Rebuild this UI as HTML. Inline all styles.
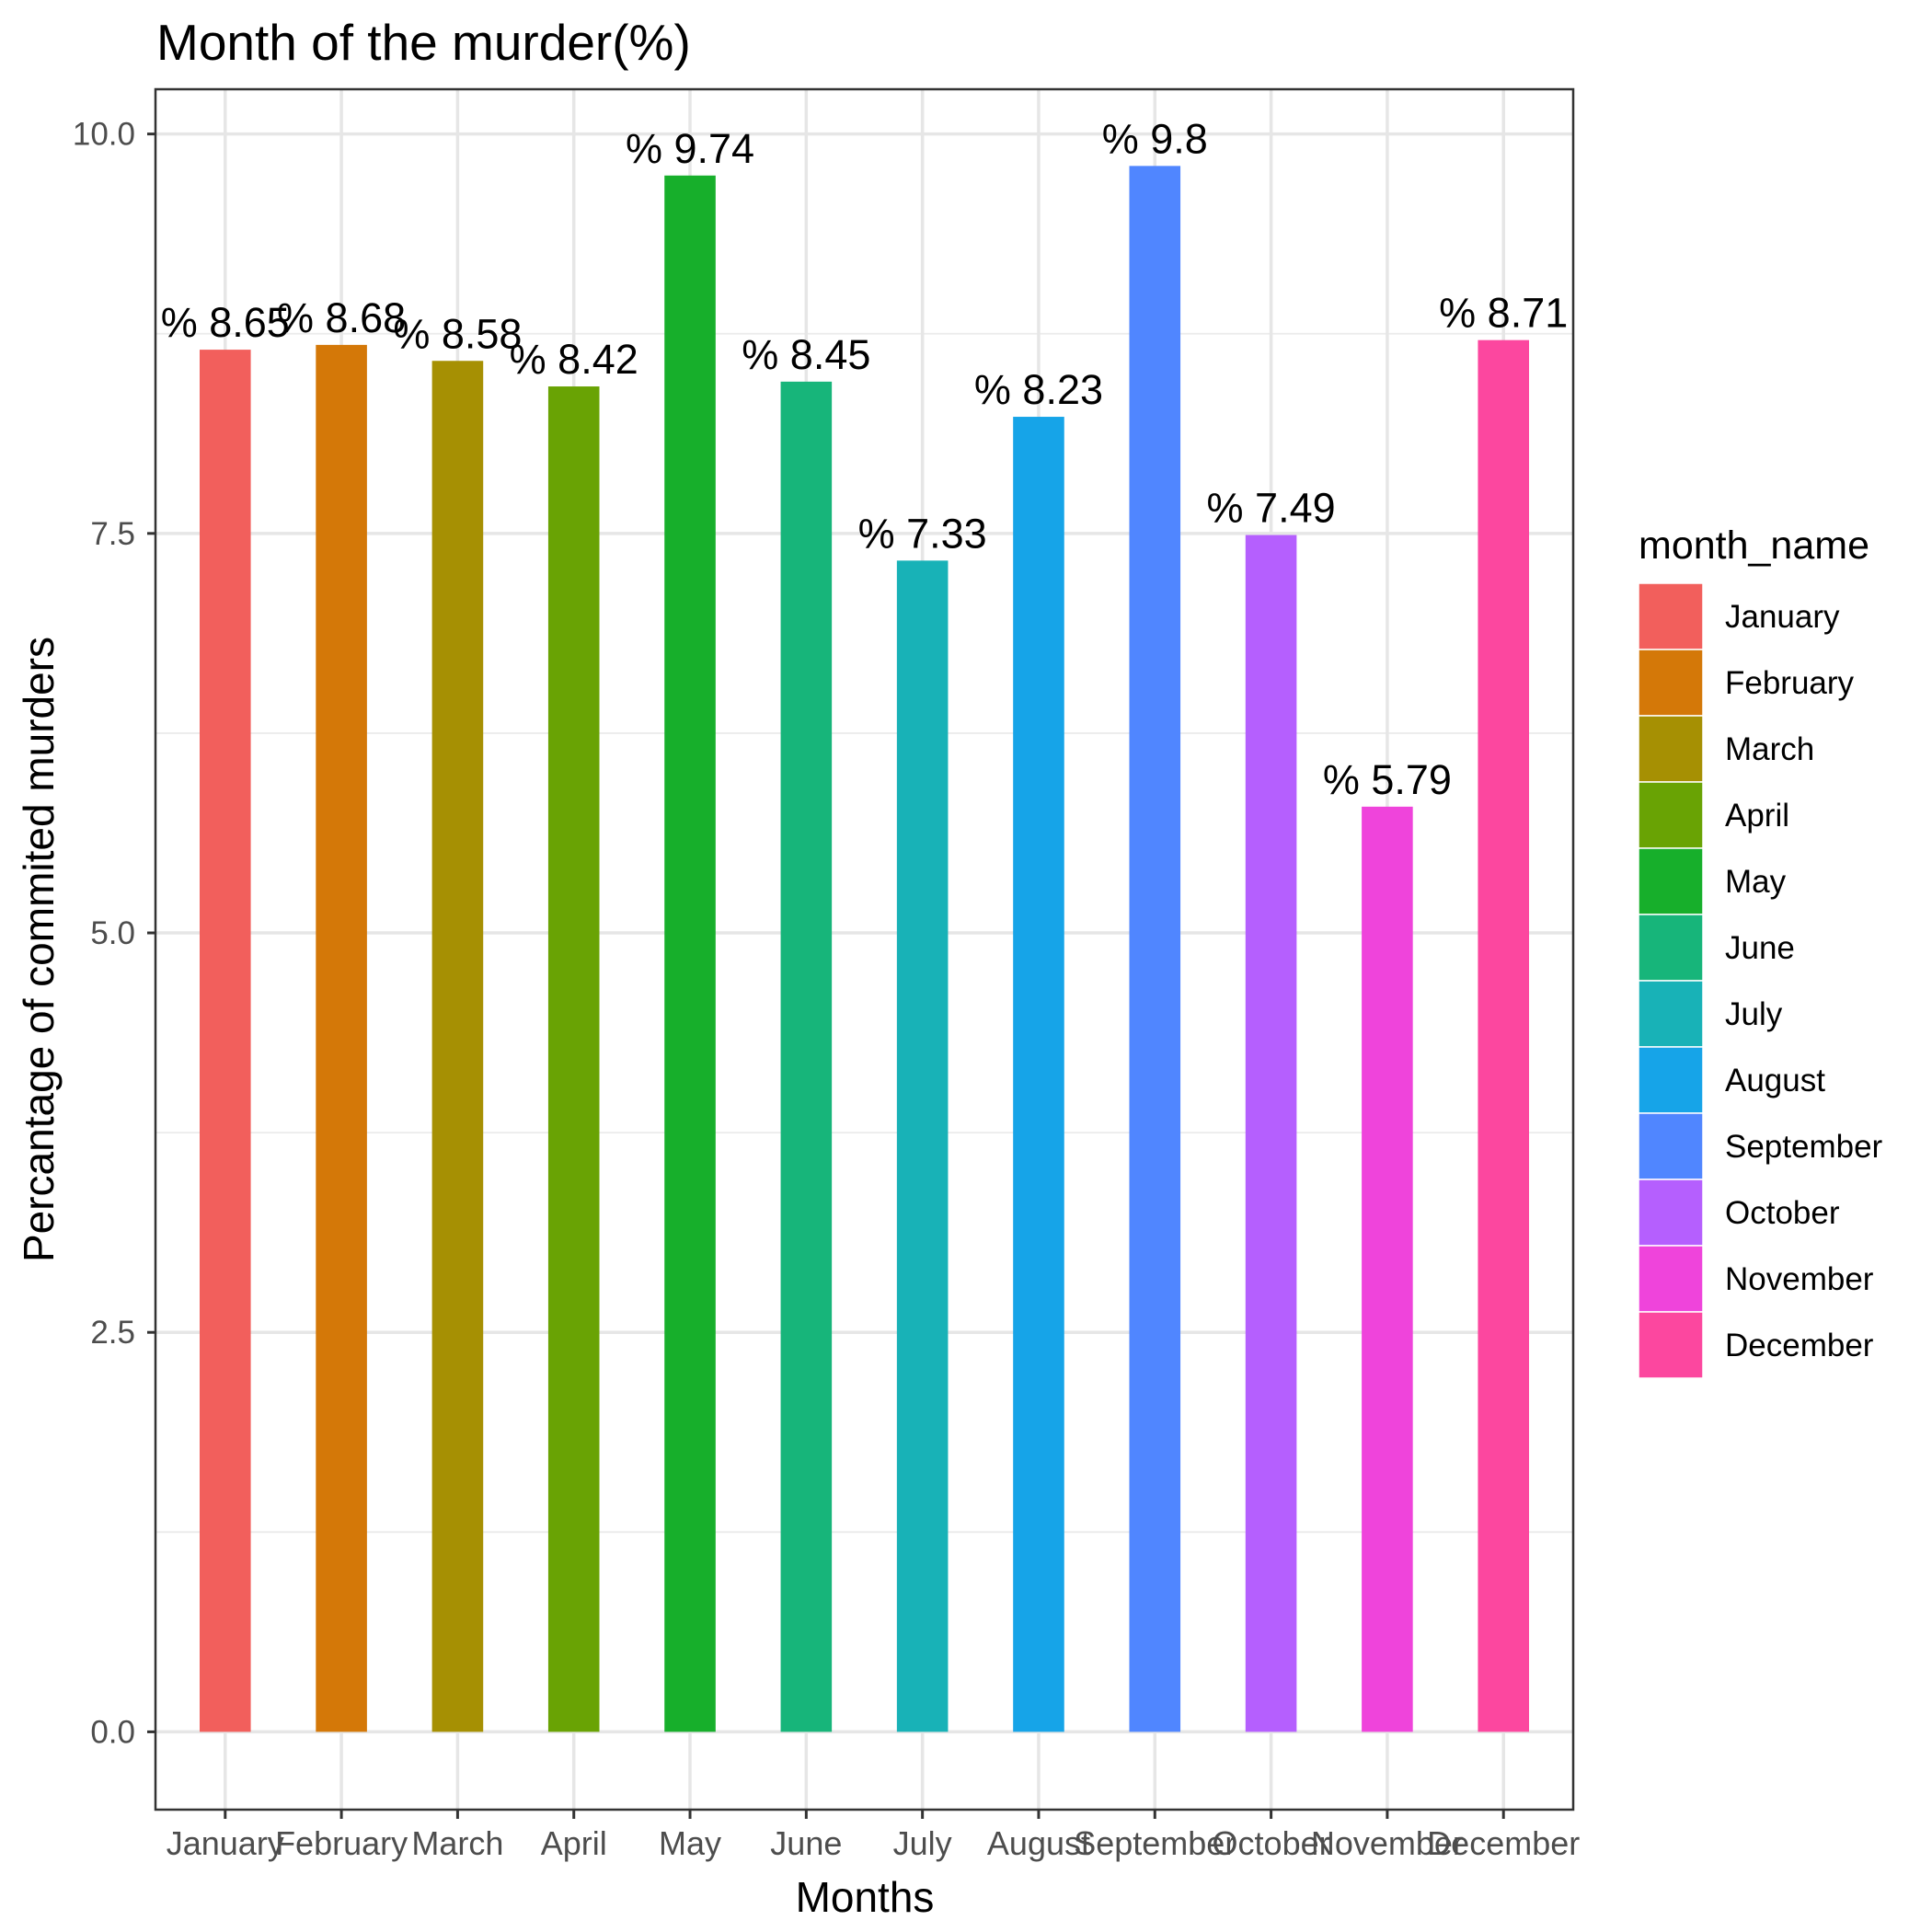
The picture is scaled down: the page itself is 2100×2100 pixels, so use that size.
<!DOCTYPE html>
<html><head><meta charset="utf-8"><style>
html,body{margin:0;padding:0;background:#fff;}
svg{display:block;font-family:"Liberation Sans",Arial,sans-serif;}
</style></head><body>
<svg id="chart" width="2100" height="2100" viewBox="0 0 2100 2100" xmlns="http://www.w3.org/2000/svg">
<rect x="0" y="0" width="2100" height="2100" fill="#fff"/>
<text x="170" y="65" font-size="55" fill="#000">Month of the murder(%)</text>
<g id="grid"></g><g id="bars"></g><g id="labels"></g><g id="axes"></g><g id="legend"></g>
<text x="940" y="2078" font-size="46" text-anchor="middle" fill="#000">Months</text>
<text transform="translate(58,1032) rotate(-90)" font-size="46" text-anchor="middle" fill="#000">Percantage of commited murders</text>
</svg>
<script>
const categories = ["January","February","March","April","May","June","July","August","September","October","November","December"];
const values = [8.65,8.68,8.58,8.42,9.74,8.45,7.33,8.23,9.8,7.49,5.79,8.71];
const colors = ["#F25F5C","#D47808","#A69003","#69A304","#17AF2B","#17B57A","#18B2B7","#16A4E8","#5086FF","#B55FFE","#EF44DB","#FC479F"];
const yTicks = [0,2.5,5,7.5,10];
const yTickLabels = ["0.0","2.5","5.0","7.5","10.0"];
const yMinor = [1.25,3.75,6.25,8.75];

const NS="http://www.w3.org/2000/svg";
const PL=169, PR=1710, PT=97, PB=1967;
const yMin=-0.487, yMax=10.28;
function yS(v){return PB-(v-yMin)/(yMax-yMin)*(PB-PT);}
const step=(PR-PL)/(categories.length+0.2);
function xS(i){return PL+step*(0.6+i);}
function mk(tag,attrs,parent){const e=document.createElementNS(NS,tag);for(const k in attrs)e.setAttribute(k,attrs[k]);parent.appendChild(e);return e;}
const grid=document.getElementById('grid'),bars=document.getElementById('bars'),labels=document.getElementById('labels'),axes=document.getElementById('axes'),legend=document.getElementById('legend');

yMinor.forEach(v=>{const l=mk('line',{x1:PL,x2:PR,y1:yS(v),y2:yS(v),stroke:'#EBEBEB','stroke-width':1.8},grid);

});
yTicks.forEach((v,i)=>{const l=mk('line',{x1:PL,x2:PR,y1:yS(v),y2:yS(v),stroke:'#E6E6E6','stroke-width':3.5},grid);


const t=mk('line',{x1:160,x2:PL,y1:yS(v),y2:yS(v),stroke:'#333','stroke-width':3},axes);


const tx=mk('text',{x:147,y:yS(v)+12,'font-size':35,'text-anchor':'end',fill:'#4D4D4D'},axes);
tx.textContent=yTickLabels[i];

});
categories.forEach((c,i)=>{const x=xS(i);
const g=mk('line',{x1:x,x2:x,y1:PT,y2:PB,stroke:'#E6E6E6','stroke-width':3.5},grid);


const bw=step*0.44;
const b=mk('rect',{x:x-bw/2,y:yS(values[i]),width:bw,height:yS(0)-yS(values[i]),fill:colors[i]},bars);


const lb=mk('text',{x:x,y:yS(values[i])-14,'font-size':45,'text-anchor':'middle',fill:'#000'},labels);
lb.textContent='% '+values[i];


const t=mk('line',{x1:x,x2:x,y1:PB,y2:PB+10,stroke:'#333','stroke-width':3},axes);


const tx=mk('text',{x:x,y:2016,'font-size':36,'text-anchor':'middle',fill:'#4D4D4D'},axes);
tx.textContent=c;

});
const border=mk('rect',{x:PL,y:PT,width:PR-PL,height:PB-PT,fill:'none',stroke:'#333','stroke-width':2.5},axes);



const lt=mk('text',{x:1781,y:607,'font-size':43,fill:'#000'},legend);
lt.textContent='month_name';


categories.forEach((c,i)=>{const y=634+i*72;
const k=mk('rect',{x:1781,y:y,width:70,height:72,fill:colors[i],stroke:'#fff','stroke-width':1.5},legend);


const t=mk('text',{x:1875,y:y+48,'font-size':35,fill:'#000'},legend);
t.textContent=c;

});
</script>
</body></html>
